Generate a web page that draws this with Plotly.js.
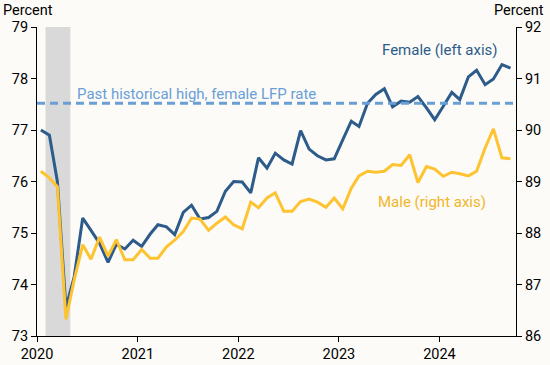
<!DOCTYPE html>
<html>
<head>
<meta charset="utf-8">
<script src="https://cdn.plot.ly/plotly-3.0.1.min.js"></script>
<style>
html,body{margin:0;padding:0;background:#fcfbf7;}
#chart{width:550px;height:365px;}
</style>
</head>
<body>
<div id="chart"></div>
<script>
// Monthly, Jan 2020 - Sep 2024
const startYear = 2020, startMonth = 1, nMonths = 57;
const months = [];
for (let i = 0; i < nMonths; i++) {
  const y = startYear + Math.floor((startMonth - 1 + i) / 12);
  const m = ((startMonth - 1 + i) % 12) + 1;
  months.push(y + '-' + String(m).padStart(2, '0') + '-15');
}

const female = [
  77.00, 76.90, 76.00, 73.55, 74.15, 75.29, 75.05, 74.80, 74.43, 74.78, 74.69, 74.86,
  74.74, 74.98, 75.16, 75.12, 74.97, 75.40, 75.54, 75.27, 75.30, 75.42, 75.81, 76.00,
  75.99, 75.78, 76.46, 76.26, 76.55, 76.42, 76.34, 76.99, 76.63, 76.50, 76.42, 76.44,
  76.81, 77.17, 77.07, 77.52, 77.69, 77.80, 77.45, 77.56, 77.54, 77.65, 77.43, 77.20,
  77.46, 77.73, 77.59, 78.03, 78.16, 77.88, 77.99, 78.27, 78.20
];

const male = [
  89.20, 89.07, 88.90, 86.32, 87.09, 87.77, 87.49, 87.92, 87.55, 87.87, 87.48, 87.48,
  87.68, 87.51, 87.51, 87.73, 87.86, 88.03, 88.29, 88.27, 88.05, 88.19, 88.31, 88.16,
  88.08, 88.60, 88.49, 88.68, 88.78, 88.42, 88.42, 88.61, 88.66, 88.60, 88.50, 88.68,
  88.47, 88.87, 89.11, 89.20, 89.18, 89.20, 89.33, 89.31, 89.52, 88.98, 89.29, 89.24,
  89.10, 89.18, 89.15, 89.11, 89.20, 89.65, 90.02, 89.46, 89.44
];

const pastHighFemale = 77.52;
const recession = ['2020-02-01', '2020-05-01'];
const leftTicks = [73, 74, 75, 76, 77, 78, 79];
const rightTicks = [86, 87, 88, 89, 90, 91, 92];
const yearTicks = ['2020-01-01', '2021-01-01', '2022-01-01', '2023-01-01', '2024-01-01'];
const yearLabels = ['2020', '2021', '2022', '2023', '2024'];

const FEMALE_C = '#2d5b8a';
const MALE_C = '#fdc331';
const MALE_TXT = '#f1b62a';
const HIGH_C = '#6a9fd6';
const FONT = 'Roboto, "Open Sans", sans-serif';

const traces = [
  {x: months, y: male, type: 'scatter', mode: 'lines', yaxis: 'y2',
   line: {color: MALE_C, width: 3}, hoverinfo: 'skip', showlegend: false},
  {x: months, y: female, type: 'scatter', mode: 'lines', yaxis: 'y',
   line: {color: FEMALE_C, width: 3}, hoverinfo: 'skip', showlegend: false}
];

const axisCommon = {
  showgrid: false, zeroline: false, showline: true, linecolor: '#000', linewidth: 1,
  ticks: 'outside', ticklen: 5, tickwidth: 1, tickcolor: '#000',
  tickfont: {family: FONT, size: 14.5, color: '#000'}
};

const layout = {
  width: 550, height: 365,
  margin: {l: 37, r: 34, t: 27, b: 29},
  paper_bgcolor: '#fcfbf7', plot_bgcolor: '#fcfbf7',
  font: {family: FONT, size: 14.5, color: '#000'},
  showlegend: false,
  xaxis: Object.assign({}, axisCommon, {
    type: 'date', range: ['2020-01-01', '2024-10-05'],
    tickmode: 'array', tickvals: yearTicks, ticktext: yearLabels
  }),
  yaxis: Object.assign({}, axisCommon, {
    range: [73, 79], tickmode: 'array', tickvals: leftTicks
  }),
  yaxis2: Object.assign({}, axisCommon, {
    range: [86, 92], tickmode: 'array', tickvals: rightTicks,
    overlaying: 'y', side: 'right'
  }),
  shapes: [
    {type: 'rect', xref: 'x', yref: 'paper', x0: recession[0], x1: recession[1], y0: 0, y1: 1,
     fillcolor: '#d9d9d9', line: {width: 0}, layer: 'below'},
    {type: 'line', xref: 'paper', yref: 'y', x0: 0, x1: 1, y0: pastHighFemale, y1: pastHighFemale,
     line: {color: HIGH_C, width: 3, dash: '8px,5px'}}
  ],
  annotations: [
    {text: 'Percent', xref: 'paper', yref: 'paper', x: -0.019, y: 1.052,
     xanchor: 'center', yanchor: 'middle', showarrow: false,
     font: {family: FONT, size: 14.5, color: '#000'}},
    {text: 'Percent', xref: 'paper', yref: 'paper', x: 1.006, y: 1.052,
     xanchor: 'center', yanchor: 'middle', showarrow: false,
     font: {family: FONT, size: 14.5, color: '#000'}},
    {text: 'Female (left axis)', xref: 'paper', yref: 'paper', x: 0.841, y: 0.9256,
     xanchor: 'center', yanchor: 'middle', showarrow: false,
     font: {family: FONT, size: 15, color: FEMALE_C}},
    {text: 'Male (right axis)', xref: 'paper', yref: 'paper', x: 0.824, y: 0.434,
     xanchor: 'center', yanchor: 'middle', showarrow: false,
     font: {family: FONT, size: 15, color: MALE_TXT}},
    {text: 'Past historical high, female LFP rate', xref: 'paper', yref: 'paper', x: 0.334, y: 0.783,
     xanchor: 'center', yanchor: 'middle', showarrow: false,
     font: {family: FONT, size: 15, color: HIGH_C}}
  ]
};

Plotly.newPlot('chart', traces, layout, {staticPlot: true, displayModeBar: false});
</script>
</body>
</html>
